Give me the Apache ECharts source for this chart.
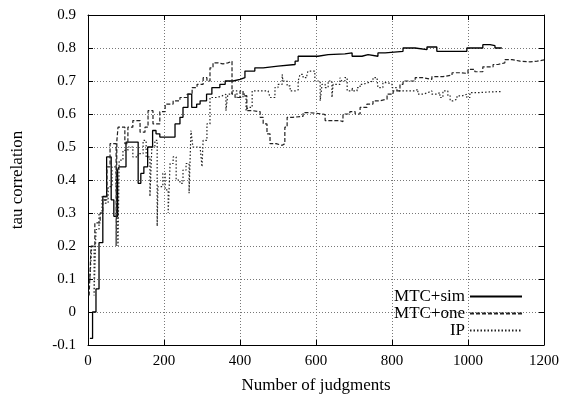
<!DOCTYPE html>
<html><head><meta charset="utf-8">
<script src="https://cdn.jsdelivr.net/npm/echarts@6/dist/echarts.min.js"></script>
<style>html,body{margin:0;padding:0;background:#fff}#c{width:566px;height:396px}</style>
</head><body><div id="c"></div>
<script>
// MTC+sim (solid) : [judgments, tau]
const mtcSim = [[5,-0.08],[12,0.0],[21,0.07],[29,0.21],[39,0.35],[49,0.47],[61,0.34],[68,0.29],[78,0.43],[82,0.44],[100,0.515],[132,0.39],[139,0.42],[147,0.44],[157,0.5],[170,0.55],[179,0.54],[189,0.53],[229,0.57],[242,0.59],[250,0.62],[263,0.66],[273,0.62],[286,0.63],[295,0.64],[312,0.66],[326,0.68],[347,0.69],[361,0.7],[382,0.705],[400,0.71],[413,0.73],[439,0.74],[461,0.745],[500,0.75],[545,0.76],[553,0.775],[605,0.78],[632,0.782],[676,0.785],[695,0.775],[721,0.78],[737,0.775],[763,0.785],[782,0.79],[829,0.8],[861,0.795],[892,0.803],[918,0.79],[953,0.79],[997,0.8],[1039,0.81],[1058,0.807],[1071,0.8],[1089,0.8]];
// MTC+one (dashed)
const mtcOne = [[3,0.05],[8,0.2],[18,0.27],[32,0.3],[39,0.34],[50,0.44],[58,0.51],[74,0.2],[76,0.52],[79,0.56],[97,0.51],[105,0.56],[118,0.58],[137,0.545],[150,0.56],[158,0.61],[171,0.57],[189,0.607],[203,0.63],[224,0.64],[242,0.65],[261,0.66],[274,0.68],[287,0.69],[303,0.71],[313,0.7],[321,0.74],[329,0.755],[342,0.752],[355,0.755],[368,0.76],[379,0.66],[387,0.65],[400,0.67],[408,0.655],[418,0.61],[434,0.607],[453,0.59],[461,0.57],[471,0.54],[479,0.51],[495,0.505],[511,0.51],[518,0.56],[524,0.59],[539,0.593],[566,0.604],[584,0.6],[618,0.598],[624,0.58],[663,0.577],[671,0.6],[689,0.607],[703,0.6],[716,0.62],[734,0.63],[750,0.64],[768,0.645],[787,0.66],[803,0.67],[821,0.69],[829,0.7],[861,0.71],[882,0.705],[905,0.713],[934,0.718],[958,0.725],[979,0.723],[1000,0.735],[1018,0.728],[1039,0.743],[1066,0.75],[1079,0.755],[1097,0.765],[1116,0.76],[1137,0.758],[1163,0.76],[1182,0.764],[1200,0.764]];
// IP (dotted)
const ip = [[5,0.1],[10,0.2],[16,0.05],[21,0.25],[29,0.3],[37,0.35],[45,0.33],[53,0.38],[63,0.44],[74,0.38],[79,0.2],[82,0.46],[92,0.49],[105,0.5],[118,0.47],[132,0.48],[145,0.52],[153,0.47],[163,0.35],[168,0.5],[176,0.52],[182,0.26],[184,0.38],[197,0.42],[203,0.37],[211,0.3],[216,0.45],[224,0.47],[232,0.4],[242,0.39],[250,0.43],[258,0.45],[266,0.36],[271,0.55],[276,0.5],[295,0.5],[300,0.44],[303,0.52],[313,0.57],[321,0.65],[339,0.655],[353,0.66],[363,0.61],[368,0.66],[379,0.67],[392,0.65],[408,0.66],[416,0.61],[421,0.62],[432,0.67],[474,0.67],[479,0.65],[492,0.68],[500,0.69],[511,0.72],[513,0.7],[524,0.685],[532,0.67],[545,0.673],[553,0.7],[558,0.72],[566,0.71],[576,0.72],[579,0.73],[589,0.73],[597,0.7],[611,0.64],[616,0.69],[624,0.68],[632,0.7],[642,0.65],[645,0.69],[655,0.69],[663,0.71],[668,0.7],[676,0.71],[682,0.67],[695,0.68],[697,0.67],[708,0.68],[716,0.69],[724,0.695],[737,0.7],[750,0.71],[761,0.7],[763,0.68],[776,0.695],[789,0.69],[800,0.68],[813,0.67],[847,0.67],[861,0.675],[868,0.66],[882,0.665],[895,0.67],[905,0.66],[918,0.665],[926,0.65],[934,0.67],[947,0.655],[953,0.64],[961,0.645],[971,0.655],[984,0.66],[997,0.65],[1005,0.665],[1032,0.667],[1058,0.668],[1089,0.668]];

const seriesNames = ['MTC+sim','MTC+one','IP'];
const xTitle = 'Number of judgments';
const yTitle = 'tau correlation';

const font = 'Liberation Serif';
const chart = echarts.init(document.getElementById('c'), null, {renderer:'canvas'});
const gridLine = {show:true, lineStyle:{color:'#777', type:[1,2], width:1}};
const lbl = {fontFamily:font, fontSize:15, color:'#000'};
chart.setOption({
  animation:false,
  backgroundColor:'#fff',
  grid:{left:88, right:22, top:15, bottom:51, containLabel:false, outerBoundsMode:'none'},
  legend:{
    orient:'vertical', right:43, top:288, align:'right', itemGap:0, padding:0,
    itemWidth:52, itemHeight:14,
    itemStyle:{opacity:0},
    textStyle:{fontFamily:font, fontSize:17, color:'#000', width:75, align:'right'},
    data:seriesNames
  },
  xAxis:[{
    type:'value', min:0, max:1200, interval:200, position:'bottom',
    name:xTitle, nameLocation:'middle', nameGap:32,
    nameTextStyle:{fontFamily:font, fontSize:17, color:'#000'},
    axisLine:{show:true, onZero:false, lineStyle:{color:'#000', width:1}},
    axisTick:{show:true, inside:true, length:5, lineStyle:{color:'#000'}},
    axisLabel:{...lbl, margin:9, formatter:v=>String(v)},
    splitLine:gridLine
  },{
    type:'value', min:0, max:1200, interval:200, position:'top',
    axisLine:{show:true, onZero:false, lineStyle:{color:'#000', width:1}},
    axisTick:{show:true, inside:true, length:5, lineStyle:{color:'#000'}},
    axisLabel:{show:false}, splitLine:{show:false}
  }],
  yAxis:[{
    type:'value', min:-0.1, max:0.9, interval:0.1, position:'left',
    name:yTitle, nameLocation:'middle', nameGap:62, nameRotate:90,
    nameTextStyle:{fontFamily:font, fontSize:17, color:'#000'},
    axisLine:{show:true, onZero:false, lineStyle:{color:'#000', width:1}},
    axisTick:{show:true, inside:true, length:5, lineStyle:{color:'#000'}},
    axisLabel:{...lbl, margin:12, formatter:v=>String(Math.round(v*10)/10)},
    splitLine:gridLine
  },{
    type:'value', min:-0.1, max:0.9, interval:0.1, position:'right',
    axisLine:{show:true, onZero:false, lineStyle:{color:'#000', width:1}},
    axisTick:{show:true, inside:true, length:5, lineStyle:{color:'#000'}},
    axisLabel:{show:false}, splitLine:{show:false}
  }],
  series:[
    {name:seriesNames[0], type:'line', step:'end', data:mtcSim, symbol:'none', xAxisIndex:0, yAxisIndex:0,
      lineStyle:{color:'#000', width:1.3, type:'solid'}, itemStyle:{color:'#000'}},
    {name:seriesNames[1], type:'line', step:'end', data:mtcOne, symbol:'none',
      lineStyle:{color:'#222', width:1.2, type:[4,2]}, itemStyle:{color:'#222'}},
    {name:seriesNames[2], type:'line', step:'end', data:ip, symbol:'none',
      lineStyle:{color:'#222', width:1.2, type:[1.5,2]}, itemStyle:{color:'#222'}}
  ]
});
</script></body></html>
